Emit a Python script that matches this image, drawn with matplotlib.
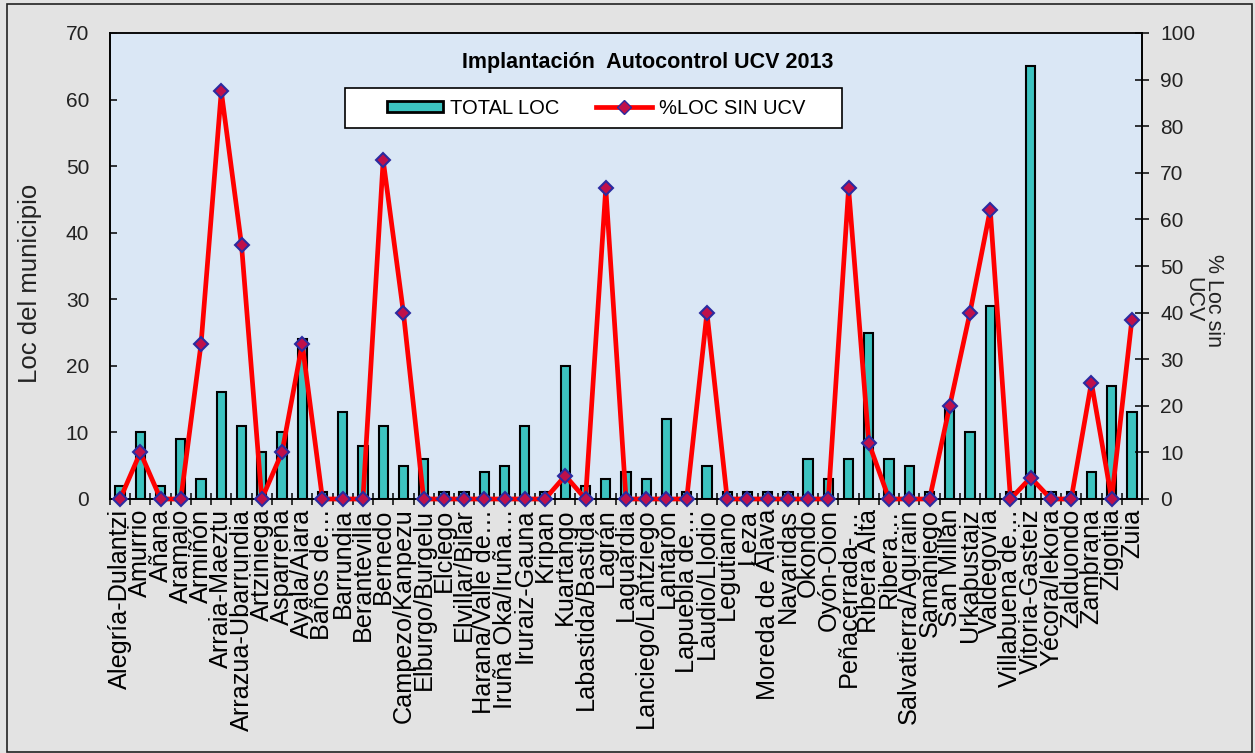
import matplotlib
matplotlib.use("Agg")
import matplotlib.pyplot as plt
import matplotlib.lines as mlines
import matplotlib.patches as mpatches
import numpy as np

plt.rcParams["font.family"] = ["Liberation Sans", "DejaVu Sans"]

# ------------------------------------------------------------
# Data
# ------------------------------------------------------------
municipios = [
    "Alegría-Dulantzi", "Amurrio", "Añana", "Aramaio", "Armiñón",
    "Arraia-Maeztu", "Arrazua-Ubarrundia", "Artziniega", "Asparrena",
    "Ayala/Aiara", "Baños de…", "Barrundia", "Berantevilla", "Bernedo",
    "Campezo/Kanpezu", "Elburgo/Burgelu", "Elciego", "Elvillar/Bilar",
    "Harana/Valle de…", "Iruña Oka/Iruña…", "Iruraiz-Gauna", "Kripan",
    "Kuartango", "Labastida/Bastida", "Lagrán", "Laguardia",
    "Lanciego/Lantziego", "Lantarón", "Lapuebla de…", "Laudio/Llodio",
    "Legutiano", "Leza", "Moreda de Álava", "Navaridas", "Okondo",
    "Oyón-Oion", "Peñacerrada-…", "Ribera Alta", "Ribera…",
    "Salvatierra/Agurain", "Samaniego", "San Millán", "Urkabustaiz",
    "Valdegovía", "Villabuena de…", "Vitoria-Gasteiz", "Yécora/Iekora",
    "Zalduondo", "Zambrana", "Zigoitia", "Zuia",
]

total_loc = [2, 10, 2, 9, 3, 16, 11, 7, 10, 24, 1, 13, 8, 11, 5, 6, 1, 1,
             4, 5, 11, 1, 20, 2, 3, 4, 3, 12, 1, 5, 1, 1, 1, 1, 6, 3, 6,
             25, 6, 5, 1, 14, 10, 29, 1, 65, 1, 1, 4, 17, 13]

pct_sin_ucv = [0, 10, 0, 0, 33.3, 87.5, 54.5, 0, 10, 33.3, 0, 0, 0, 72.7,
               40, 0, 0, 0, 0, 0, 0, 0, 5, 0, 66.7, 0, 0, 0, 0, 40, 0, 0,
               0, 0, 0, 0, 66.7, 12, 0, 0, 0, 20, 40, 62.1, 0, 4.6, 0, 0,
               25, 0, 38.5]

left_ticks = [0, 10, 20, 30, 40, 50, 60, 70]
right_ticks = [0, 10, 20, 30, 40, 50, 60, 70, 80, 90, 100]

# ------------------------------------------------------------
# Styles
# ------------------------------------------------------------
FIG_BG = "#e3e3e3"
PLOT_BG = "#dae7f5"
BAR_COLOR = "#3cc3c0"
LINE_COLOR = "#ff0000"
MARK_FACE = "#c0104a"
MARK_EDGE = "#2b2ba0"
TEXT_COLOR = "#222222"

W, H = 1255, 753
fig = plt.figure(figsize=(W / 100, H / 100), dpi=100, facecolor=FIG_BG)

# outer frame
fig.patches.append(mpatches.Rectangle(
    (7 / W, 1 / H), 1245 / W, 748 / H, transform=fig.transFigure,
    fill=False, edgecolor="#222222", linewidth=1.2))

ax = fig.add_axes([110 / W, 1 - 499 / H, 1032 / W, 466 / H])
ax.set_facecolor(PLOT_BG)
x = np.arange(len(municipios))

ax.bar(x, total_loc, width=0.46, color=BAR_COLOR, edgecolor="black",
       linewidth=1.5, zorder=2)
ax.set_xlim(-0.5, len(municipios) - 0.5)
ax.set_ylim(0, 70)
ax.set_yticks(left_ticks)
ax.tick_params(axis="y", direction="in", length=5, width=1.1,
               labelsize=15, pad=15, labelcolor=TEXT_COLOR)

ax.set_xticks(x)
ax.set_xticklabels(municipios, rotation=90, fontsize=18.2)
ax.set_xticks(np.arange(len(municipios) + 1) - 0.5, minor=True)
ax.tick_params(axis="x", which="major", length=0, pad=7,
               labelcolor="black")
ax.tick_params(axis="x", which="minor", direction="inout", length=8,
               width=1.1)

for sp in ax.spines.values():
    sp.set_linewidth(1.2)
ax.spines["top"].set_color("#444444")

ax2 = ax.twinx()
ax2.plot(x, pct_sin_ucv, color=LINE_COLOR, linewidth=3.4, marker="D",
         markersize=7, markerfacecolor=MARK_FACE, markeredgecolor=MARK_EDGE,
         markeredgewidth=1.5, zorder=5, clip_on=False)
ax2.set_ylim(0, 100)
ax2.set_yticks(right_ticks)
ax2.tick_params(axis="y", direction="inout", length=10, width=1.1,
                labelsize=15, pad=8, labelcolor=TEXT_COLOR)
for sp in ax2.spines.values():
    sp.set_linewidth(1.2)

# title inside plot
ax.text(0.521, 0.936, "Implantación  Autocontrol UCV 2013",
        transform=ax.transAxes, ha="center", va="center",
        fontsize=15.5, fontweight="bold", zorder=10)

# legend box
ax.add_patch(mpatches.Rectangle(
    (0.228, 0.796), 0.481, 0.086, transform=ax.transAxes,
    facecolor="white", edgecolor="black", linewidth=1.2, zorder=9))
bar_handle = mpatches.Patch(facecolor=BAR_COLOR, edgecolor="black",
                            linewidth=2, label="TOTAL LOC")
line_handle = mlines.Line2D([], [], color=LINE_COLOR, linewidth=3.4,
                            marker="D", markersize=7,
                            markerfacecolor=MARK_FACE,
                            markeredgecolor=MARK_EDGE,
                            label="%LOC SIN UCV")
leg = ax2.legend(handles=[bar_handle, line_handle], ncol=2, frameon=False,
                 loc="center", bbox_to_anchor=(0.471, 0.839),
                 bbox_transform=ax.transAxes,
                 fontsize=14.5, handlelength=2.8, handletextpad=0.35,
                 columnspacing=1.8, handleheight=0.5)
leg.set_zorder(11)

# axis labels
fig.text(30 / W, 1 - 283 / H, "Loc del municipio", rotation=90,
         ha="center", va="center", fontsize=18.5, color=TEXT_COLOR)
fig.text(1203 / W, 1 - 300 / H, "% Loc sin\nUCV", rotation=270,
         ha="center", va="center", fontsize=15.5, linespacing=0.95,
         color=TEXT_COLOR)

fig.savefig("out.png", dpi=100, facecolor=FIG_BG)
